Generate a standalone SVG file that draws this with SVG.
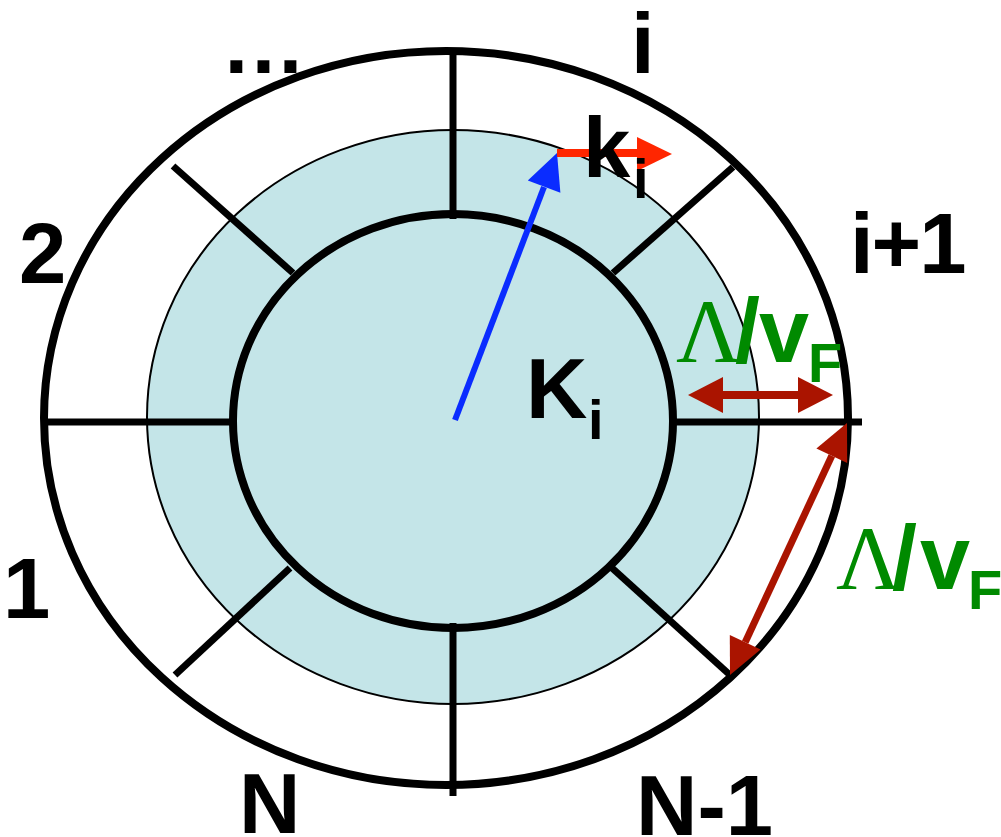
<svg xmlns="http://www.w3.org/2000/svg" width="1001" height="837" viewBox="0 0 1001 837">
<style>
.ring{fill:none;stroke:#000;stroke-width:8}
.sep{stroke:#000;stroke-width:7;fill:none}
.lbl{font-family:"Liberation Sans",Arial,sans-serif;font-weight:bold;font-size:85px;fill:#000}
.sub{font-size:56px}
.grn{font-family:"Liberation Sans",Arial,sans-serif;font-weight:bold;font-size:90px;fill:#008a00}
.lam{font-family:"Liberation Serif","Times New Roman",serif;font-weight:normal}
</style>
<rect width="1001" height="837" fill="#fff"/>
<g id="outer-ring">
<ellipse cx="446" cy="418" rx="402" ry="367" class="ring"/>
</g>
<g id="fermi-shell">
<ellipse cx="453" cy="417" rx="306" ry="287" fill="#c4e5e8" stroke="#000" stroke-width="2"/>
</g>
<g id="inner-ring">
<ellipse cx="453" cy="421" rx="220" ry="207" class="ring"/>
</g>
<g id="sector-dividers">
<line x1="453" y1="51" x2="453" y2="219" class="sep"/>
<line x1="453" y1="623" x2="453" y2="796" class="sep"/>
<line x1="44" y1="422" x2="233" y2="422" class="sep"/>
<line x1="673" y1="422" x2="862" y2="422" class="sep"/>
<line x1="173" y1="166" x2="293" y2="273" class="sep"/>
<line x1="733" y1="167" x2="613" y2="273" class="sep"/>
<line x1="290" y1="568" x2="175" y2="675" class="sep"/>
<line x1="612" y1="568" x2="730" y2="675" class="sep"/>
</g>
<g id="connectors">
<line x1="455" y1="420" x2="544" y2="187" stroke="#0a2cff" stroke-width="6"/>
<polygon points="557,153 560.4,192.8 527.8,180.4" fill="#0a2cff"/>
<line x1="557" y1="153" x2="640" y2="153" stroke="#ff2600" stroke-width="8"/>
<polygon points="672,154 637,137 637,171" fill="#ff2600"/>
<line x1="720" y1="395" x2="801" y2="395" stroke="#aa1400" stroke-width="8"/>
<polygon points="688,395 723,377 723,413" fill="#aa1400"/>
<polygon points="833,395 798,377 798,413" fill="#aa1400"/>
<line x1="831.8" y1="455.7" x2="745.2" y2="642.3" stroke="#aa1400" stroke-width="7"/>
<polygon points="847,423 847.2,462.9 816.4,448.5" fill="#aa1400"/>
<polygon points="730,675 760.6,649.5 729.8,635.1" fill="#aa1400"/>
</g>
<g id="labels">
<text class="lbl" x="631" y="73">i</text>
<text class="lbl" x="850" y="273" letter-spacing="-2">i+1</text>
<text class="lbl" x="19" y="283">2</text>
<text class="lbl" x="221" y="73">…</text>
<text class="lbl" x="3" y="618">1</text>
<text class="lbl" x="239" y="833">N</text>
<text class="lbl" x="636" y="835">N-1</text>
</g>
<g id="K-label">
<text class="lbl" x="526" y="418">K<tspan class="sub" x="588" y="439">i</tspan></text>
</g>
<g id="k-label">
<text class="lbl" x="583" y="177">k<tspan class="sub" x="633" y="198">i</tspan></text>
</g>
<g id="lambda-label-1">
<text class="grn" y="362"><tspan class="lam" x="676">Λ</tspan><tspan x="735">/</tspan><tspan x="759">v</tspan><tspan class="sub" x="808" y="382">F</tspan></text>
</g>
<g id="lambda-label-2">
<text class="grn" y="589"><tspan class="lam" x="836">Λ</tspan><tspan x="892">/</tspan><tspan x="920">v</tspan><tspan class="sub" x="968" y="609">F</tspan></text>
</g>
</svg>
